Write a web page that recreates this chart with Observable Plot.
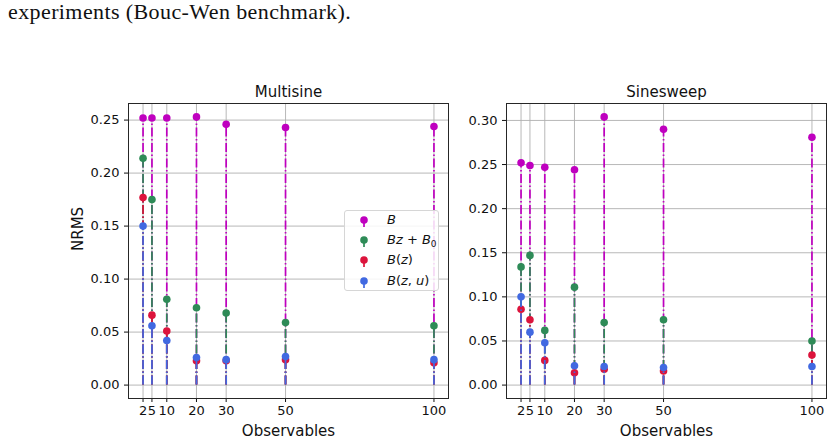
<!DOCTYPE html>
<html>
<head>
<meta charset="utf-8">
<script src="https://cdn.jsdelivr.net/npm/d3@7"></script>
<script src="https://cdn.jsdelivr.net/npm/@observablehq/plot@0.6"></script>
<style>
  html, body { margin: 0; padding: 0; background: #fff; }
  body { width: 833px; height: 443px; position: relative; overflow: hidden; font-family: "DejaVu Sans", sans-serif; }
  #caption { position: absolute; left: 8px; top: -1px; font-family: "Liberation Serif", serif; font-size: 22px; letter-spacing: 0.4px; line-height: 26px; color: #111; white-space: nowrap; }
  .panel { position: absolute; top: 70px; }
  #legend { position: absolute; left: 344px; top: 210px; width: 95px; height: 81px; box-sizing: border-box;
            border: 1px solid #d6d6d6; border-radius: 3px; background: rgba(255,255,255,0.85); font-size: 13px; color: #111; }
  #legend .row { position: absolute; left: 0; height: 20px; display: flex; align-items: center; }
  #legend svg { position: absolute; left: 13px; top: 2px; }
  #legend span { position: absolute; left: 42px; white-space: nowrap; top: 1px; }
  #legend i { font-style: oblique; }
  #legend sub { font-size: 9px; vertical-align: -3px; }
</style>
</head>
<body>
<div id="caption">experiments (Bouc-Wen benchmark).</div>
<div id="left" class="panel" style="left:40px"></div>
<div id="right" class="panel" style="left:452px"></div>
<div id="legend"></div>
<script>
// Number of observables on the x axis
const observables = [2, 5, 10, 20, 30, 50, 100];

// Model variants and their colours
const seriesNames = ["B", "Bz+B0", "B(z)", "B(z,u)"];
const seriesColors = ["#bf00bf", "#2e8b57", "#dc143c", "#4169e1"];

// NRMS — multisine experiment
const multisineB    = [0.252, 0.252, 0.252, 0.253, 0.246, 0.243, 0.244];
const multisineBzB0 = [0.214, 0.175, 0.081, 0.073, 0.068, 0.059, 0.056];
const multisineBz   = [0.177, 0.066, 0.051, 0.023, 0.023, 0.024, 0.021];
const multisineBzu  = [0.150, 0.056, 0.042, 0.026, 0.024, 0.027, 0.024];

// NRMS — sinesweep experiment
const sinesweepB    = [0.252, 0.249, 0.247, 0.244, 0.304, 0.290, 0.281];
const sinesweepBzB0 = [0.134, 0.147, 0.062, 0.111, 0.071, 0.074, 0.050];
const sinesweepBz   = [0.086, 0.074, 0.028, 0.014, 0.018, 0.016, 0.034];
const sinesweepBzu  = [0.100, 0.060, 0.048, 0.022, 0.021, 0.020, 0.021];

// Tick values
const multisineYTicks = [0, 0.05, 0.10, 0.15, 0.20, 0.25];
const sinesweepYTicks = [0, 0.05, 0.10, 0.15, 0.20, 0.25, 0.30];

const stemDash = "9,2.5,1.5,2.5";
const gridStyle = {stroke: "#b0b0b0", strokeOpacity: 1, strokeWidth: 0.9};

function stemPanel({title, values, yTicks, yLabel, width, marginLeft, marginRight}) {
  const rows = values.map((vals, i) =>
    observables.map((x, j) => ({x, y: vals[j], series: seriesNames[i]})));
  const yMax = d3.max(values.flat());
  const pad = 0.05 * yMax;
  const xPad = 0.05 * (d3.max(observables) - d3.min(observables));

  const marks = [
    Plot.gridX(observables, gridStyle),
    Plot.gridY(yTicks, gridStyle)
  ];
  rows.forEach((r, i) => {
    marks.push(Plot.ruleX(r, {x: "x", y1: 0, y2: "y", stroke: seriesColors[i], strokeWidth: 1.7, strokeDasharray: stemDash}));
    marks.push(Plot.dot(r, {x: "x", y: "y", r: 3.8, fill: seriesColors[i]}));
  });
  marks.push(
    Plot.axisX({ticks: observables, tickSize: 4, tickPadding: 3, label: null, tickFormat: d => String(d)}),
    Plot.axisY({ticks: yTicks, tickSize: 4, tickPadding: 5, label: null, tickFormat: d3.format(".2f")}),
    Plot.frame({stroke: "#262626", strokeWidth: 1}),
    Plot.text([title], {frameAnchor: "top", dy: -17, fontSize: 15, fill: "#111"}),
    Plot.text(["Observables"], {frameAnchor: "bottom", dy: 37, fontSize: 15, fill: "#111"})
  );
  if (yLabel) marks.push(Plot.text([yLabel], {frameAnchor: "left", rotate: -90, dx: -50, fontSize: 15, fill: "#111"}));

  return Plot.plot({
    width, height: 373,
    marginLeft, marginRight, marginTop: 33, marginBottom: 45,
    x: {type: "linear", domain: [d3.min(observables) - xPad, d3.max(observables) + xPad]},
    y: {type: "linear", domain: [-pad, yMax + pad]},
    style: {fontSize: "13px", fontFamily: "DejaVu Sans, sans-serif", color: "#111", background: "transparent", overflow: "visible"},
    marks
  });
}

document.getElementById("left").append(stemPanel({
  title: "Multisine",
  values: [multisineB, multisineBzB0, multisineBz, multisineBzu],
  yTicks: multisineYTicks, yLabel: "NRMS",
  width: 410, marginLeft: 88, marginRight: 2
}));
document.getElementById("right").append(stemPanel({
  title: "Sinesweep",
  values: [sinesweepB, sinesweepBzB0, sinesweepBz, sinesweepBzu],
  yTicks: sinesweepYTicks, yLabel: null,
  width: 381, marginLeft: 54, marginRight: 7
}));

// Legend: stem glyph plus math-style label for each variant
const legendLabels = [
  "<i>B</i>",
  "<i>Bz</i> + <i>B</i><sub>0</sub>",
  "<i>B</i>(<i>z</i>)",
  "<i>B</i>(<i>z</i>, <i>u</i>)"
];
const legend = document.getElementById("legend");
seriesNames.forEach((name, i) => {
  const row = document.createElement("div");
  row.className = "row";
  row.style.top = (i * 20.2) + "px";
  row.innerHTML =
    `<svg width="12" height="16"><line x1="6" x2="6" y1="7" y2="14" stroke="${seriesColors[i]}" stroke-width="1.7"/>` +
    `<circle cx="6" cy="7" r="3.8" fill="${seriesColors[i]}"/></svg><span>${legendLabels[i]}</span>`;
  legend.append(row);
});
</script>
</body>
</html>
